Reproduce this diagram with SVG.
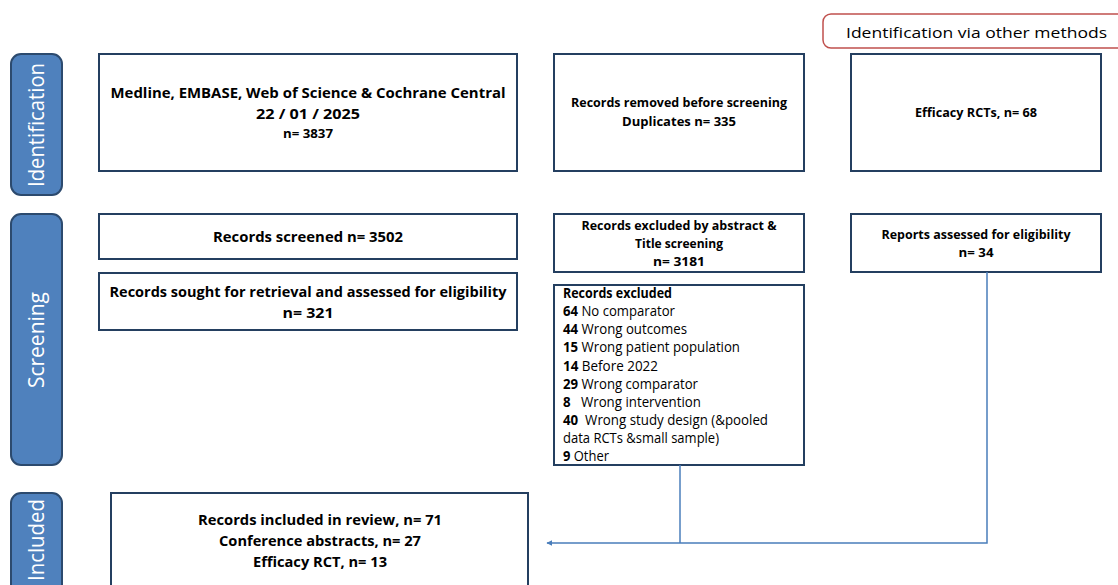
<svg xmlns="http://www.w3.org/2000/svg" width="1118" height="585" viewBox="0 0 1118 585">
<style>
.bar{fill:#4f81bd;stroke:#2c4a6e;stroke-width:2}
.box{fill:#fff;stroke:#243f60;stroke-width:2}
.bl{font-family:"Open Sans","Liberation Sans",sans-serif;font-weight:bold;font-size:14.5px;fill:#000;text-anchor:middle}
.sm{font-family:"Open Sans","Liberation Sans",sans-serif;font-weight:bold;font-size:13px;fill:#000;text-anchor:middle}
.rg{font-family:"Open Sans","Liberation Sans",sans-serif;font-size:14px;fill:#000}
.side{font-family:"Open Sans","Liberation Sans",sans-serif;font-size:21px;fill:#fff;text-anchor:middle}
.con{fill:none;stroke:#4a7ebb;stroke-width:1.5}
</style>
<defs>
<marker id="arr" viewBox="0 0 10 10" refX="9" refY="5" markerWidth="6" markerHeight="6" orient="auto" markerUnits="userSpaceOnUse">
<path d="M0,0 L10,5 L0,10 z" fill="#4a7ebb"/>
</marker>
</defs>
<rect width="1118" height="585" fill="#fff"/>

<g id="bar-identification">
<rect class="bar" x="11" y="54" width="51" height="141" rx="10"/>
<text class="side" transform="translate(44,125) rotate(-90)" textLength="124" lengthAdjust="spacingAndGlyphs">Identification</text>
</g>
<g id="bar-screening">
<rect class="bar" x="11" y="214" width="51" height="251" rx="10"/>
<text class="side" transform="translate(44,340) rotate(-90)" textLength="96" lengthAdjust="spacingAndGlyphs">Screening</text>
</g>
<g id="bar-included">
<rect class="bar" x="11" y="493" width="51" height="110" rx="10"/>
<text class="side" transform="translate(44,540) rotate(-90)" textLength="82" lengthAdjust="spacingAndGlyphs">Included</text>
</g>

<g id="other-methods">
<rect x="823" y="14" width="310" height="34" rx="8" fill="#fff" stroke="#c0504d" stroke-width="1.5"/>
<text class="rg" x="846" y="38" font-size="18" textLength="261" lengthAdjust="spacingAndGlyphs">Identification via other methods</text>
</g>

<g id="databases">
<rect class="box" x="99" y="54" width="418" height="117"/>
<text class="bl" x="308" y="98" font-size="15.5" textLength="395" lengthAdjust="spacingAndGlyphs">Medline, EMBASE, Web of Science &amp; Cochrane Central</text>
<text class="bl" x="308" y="119" font-size="15.5" textLength="104" lengthAdjust="spacingAndGlyphs">22 / 01 / 2025</text>
<text class="sm" x="308" y="138" textLength="50" lengthAdjust="spacingAndGlyphs">n= 3837</text>
</g>

<g id="removed">
<rect class="box" x="554" y="54" width="250" height="117"/>
<text class="sm" x="679" y="107" textLength="216" lengthAdjust="spacingAndGlyphs">Records removed before screening</text>
<text class="sm" x="679" y="126" textLength="114" lengthAdjust="spacingAndGlyphs">Duplicates n= 335</text>
</g>

<g id="efficacy-rcts">
<rect class="box" x="851" y="54" width="250" height="117"/>
<text class="sm" x="976" y="117" textLength="122" lengthAdjust="spacingAndGlyphs">Efficacy RCTs, n= 68</text>
</g>

<g id="screened">
<rect class="box" x="99" y="214" width="418" height="45"/>
<text class="bl" x="308" y="242" textLength="190" lengthAdjust="spacingAndGlyphs">Records screened n= 3502</text>
</g>

<g id="excluded-abstract">
<rect class="box" x="554" y="214" width="250" height="58"/>
<text class="sm" x="679" y="230" textLength="195" lengthAdjust="spacingAndGlyphs">Records excluded by abstract &amp;</text>
<text class="sm" x="679" y="248" textLength="88" lengthAdjust="spacingAndGlyphs">Title screening</text>
<text class="sm" x="679" y="266" textLength="52" lengthAdjust="spacingAndGlyphs">n= 3181</text>
</g>

<g id="reports-assessed">
<rect class="box" x="851" y="214" width="250" height="58"/>
<text class="sm" x="976" y="239" textLength="189" lengthAdjust="spacingAndGlyphs">Reports assessed for eligibility</text>
<text class="sm" x="976" y="257" textLength="35" lengthAdjust="spacingAndGlyphs">n= 34</text>
</g>

<g id="sought">
<rect class="box" x="99" y="273" width="418" height="57"/>
<text class="bl" x="308" y="297" textLength="397" lengthAdjust="spacingAndGlyphs">Records sought for retrieval and assessed for eligibility</text>
<text class="bl" x="308" y="318" textLength="51" lengthAdjust="spacingAndGlyphs">n= 321</text>
</g>

<g id="excluded-reasons">
<rect class="box" x="554" y="285" width="250" height="180"/>
<text class="rg" x="563" y="298" font-weight="bold" textLength="109" lengthAdjust="spacingAndGlyphs">Records excluded</text>
<text class="rg" x="563" y="316" textLength="112" lengthAdjust="spacingAndGlyphs"><tspan font-weight="bold">64</tspan> No comparator</text>
<text class="rg" x="563" y="334" textLength="124" lengthAdjust="spacingAndGlyphs"><tspan font-weight="bold">44</tspan> Wrong outcomes</text>
<text class="rg" x="563" y="352" textLength="177" lengthAdjust="spacingAndGlyphs"><tspan font-weight="bold">15</tspan> Wrong patient population</text>
<text class="rg" x="563" y="371" textLength="95" lengthAdjust="spacingAndGlyphs"><tspan font-weight="bold">14</tspan> Before 2022</text>
<text class="rg" x="563" y="389" textLength="135" lengthAdjust="spacingAndGlyphs"><tspan font-weight="bold">29</tspan> Wrong comparator</text>
<text class="rg" x="563" y="407" textLength="138" lengthAdjust="spacingAndGlyphs" xml:space="preserve"><tspan font-weight="bold">8</tspan>   Wrong intervention</text>
<text class="rg" x="563" y="425" textLength="205" lengthAdjust="spacingAndGlyphs" xml:space="preserve"><tspan font-weight="bold">40</tspan>  Wrong study design (&amp;pooled</text>
<text class="rg" x="563" y="443" textLength="156" lengthAdjust="spacingAndGlyphs">data RCTs &amp;small sample)</text>
<text class="rg" x="563" y="461" textLength="46" lengthAdjust="spacingAndGlyphs"><tspan font-weight="bold">9</tspan> Other</text>
</g>

<g id="included">
<rect class="box" x="111" y="493" width="417" height="110"/>
<text class="bl" x="320" y="525" font-size="15.5" textLength="244" lengthAdjust="spacingAndGlyphs">Records included in review, n= 71</text>
<text class="bl" x="320" y="546" font-size="15.5" textLength="202" lengthAdjust="spacingAndGlyphs">Conference abstracts, n= 27</text>
<text class="bl" x="320" y="567" font-size="15.5" textLength="134" lengthAdjust="spacingAndGlyphs">Efficacy RCT, n= 13</text>
</g>

<g id="connectors">
<path class="con" d="M680,465 V543"/>
<path class="con" d="M987,272 V543 H547" marker-end="url(#arr)"/>
</g>
</svg>
